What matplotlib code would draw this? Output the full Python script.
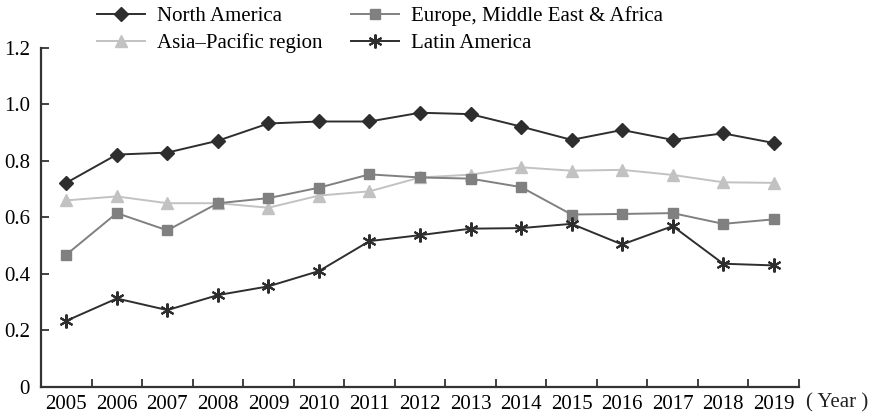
import matplotlib
matplotlib.use("Agg")
import matplotlib.pyplot as plt
from matplotlib.ticker import FixedLocator, FuncFormatter

years = [str(y) for y in range(2005, 2020)]
north_america = [0.722, 0.822, 0.829, 0.871, 0.932, 0.939, 0.939, 0.970, 0.965, 0.921, 0.874, 0.909, 0.874, 0.897, 0.863]
emea = [0.468, 0.615, 0.554, 0.650, 0.668, 0.705, 0.752, 0.741, 0.737, 0.707, 0.610, 0.612, 0.615, 0.577, 0.593]
asia_pacific = [0.660, 0.674, 0.650, 0.650, 0.634, 0.677, 0.692, 0.741, 0.751, 0.777, 0.765, 0.768, 0.750, 0.724, 0.722]
latin_america = [0.234, 0.313, 0.272, 0.325, 0.356, 0.410, 0.516, 0.537, 0.560, 0.562, 0.577, 0.504, 0.569, 0.436, 0.430]
y_ticks = [0, 0.2, 0.4, 0.6, 0.8, 1.0, 1.2]

plt.rcParams['font.family'] = ['Liberation Serif', 'DejaVu Serif']

fig = plt.figure(figsize=(8.74, 4.16), dpi=100)
ax = fig.add_axes([41/874, 29/416, 758/874, 339.3/416])

x = list(range(len(years)))
ln1, = ax.plot(x, north_america, color='#2e2e2e', lw=1.4, marker='D', ms=7.5, label='North America', zorder=5)
ln2, = ax.plot(x, emea, color='#808080', lw=1.4, marker='s', ms=7.5, mec='#808080', label='Europe, Middle East & Africa', zorder=4)
ln3, = ax.plot(x, asia_pacific, color='#c2c2c2', lw=1.4, marker='^', ms=9, label='Asia\u2013Pacific region', zorder=3)
ln4, = ax.plot(x, latin_america, color='#2e2e2e', lw=1.4, marker=(6, 2, 0), ms=10, mew=1.5, label='Latin America', zorder=6)

ax.set_xlim(-0.5, len(years) - 0.5)
ax.set_ylim(0, 1.2)
ax.set_xticks(x)
ax.set_xticklabels(years)
ax.xaxis.set_minor_locator(FixedLocator([i + 0.5 for i in range(len(years))]))
ax.tick_params(axis='x', which='major', length=0, pad=6, labelsize=15)
ax.tick_params(axis='x', which='minor', direction='in', length=6, width=1.3, color='#333333')
ax.set_yticks(y_ticks)
ax.yaxis.set_major_formatter(FuncFormatter(lambda v, p: '0' if v == 0 else f'{v:.1f}'))
ax.tick_params(axis='y', direction='in', length=6, width=1.3, color='#333333', labelsize=15, pad=8)

for s in ['top', 'right']:
    ax.spines[s].set_visible(False)
for s in ['left', 'bottom']:
    ax.spines[s].set_linewidth(1.6)
    ax.spines[s].set_color('#333333')

fig.text(806/874, (416 - 403)/416, '( Year )', ha='left', va='center', fontsize=15, color='#222222')

fig.legend(handles=[ln1, ln3, ln2, ln4], labels=['North America', 'Asia\u2013Pacific region', 'Europe, Middle East & Africa', 'Latin America'],
           ncol=2, loc='upper left', bbox_to_anchor=(78/874, 1.03), frameon=False, fontsize=15,
           handlelength=2.3, columnspacing=1.35, handletextpad=0.6, labelspacing=0.35)

fig.savefig('out.png', dpi=100)
